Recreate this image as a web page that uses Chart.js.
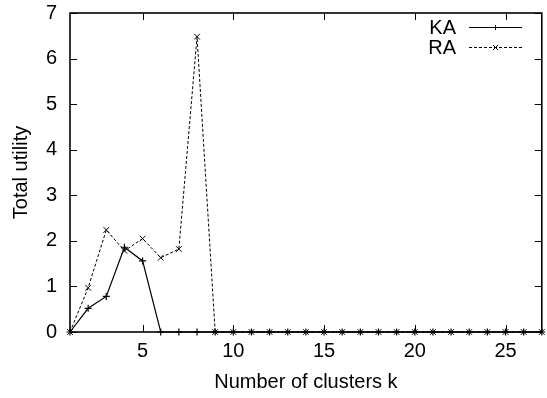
<!DOCTYPE html>
<html>
<head>
<meta charset="utf-8">
<script src="https://cdn.jsdelivr.net/npm/chart.js@4/dist/chart.umd.min.js"></script>
<style>
  html, body { margin: 0; padding: 0; background: #fff; }
  #wrap { width: 547px; height: 398px; }
</style>
</head>
<body>
<div id="wrap"><canvas id="chart"></canvas></div>
<script>
// number of clusters k and total utility for each algorithm
const kValues  = [1, 2, 3, 4, 5, 6, 7, 8, 9, 10, 11, 12, 13, 14, 15, 16, 17, 18, 19, 20, 21, 22, 23, 24, 25, 26, 27];
const kaValues = [0, 0.52, 0.78, 1.86, 1.56, 0, 0, 0, 0, 0, 0, 0, 0, 0, 0, 0, 0, 0, 0, 0, 0, 0, 0, 0, 0, 0, 0];
const raValues = [0, 0.97, 2.24, 1.78, 2.05, 1.63, 1.82, 6.48, 0, 0, 0, 0, 0, 0, 0, 0, 0, 0, 0, 0, 0, 0, 0, 0, 0, 0, 0];
const xTicks = [5, 10, 15, 20, 25];
const yTicks = [0, 1, 2, 3, 4, 5, 6, 7];

const FONT = '"Liberation Sans", Arial, Helvetica, sans-serif';
const FONT_SIZE = 20;

const toPoints = vals => vals.map((v, i) => ({ x: kValues[i], y: v }));

// gnuplot-like frame with inward ticks on all four sides, plus the key
const framePlugin = {
    id: 'frame',
    afterDraw(chart) {
        const { ctx, chartArea: a, scales } = chart;
        const tick = 7;
        ctx.save();
        ctx.strokeStyle = '#000';
        ctx.lineWidth = 1;
        ctx.beginPath();
        xTicks.forEach(v => {
            const px = Math.round(scales.x.getPixelForValue(v)) + 0.5;
            ctx.moveTo(px, a.bottom); ctx.lineTo(px, a.bottom - tick);
            ctx.moveTo(px, a.top); ctx.lineTo(px, a.top + tick);
        });
        yTicks.forEach(v => {
            const py = Math.round(scales.y.getPixelForValue(v)) + 0.5;
            ctx.moveTo(a.left, py); ctx.lineTo(a.left + tick, py);
            ctx.moveTo(a.right, py); ctx.lineTo(a.right - tick, py);
        });
        ctx.stroke();
        ctx.lineWidth = 1.6;
        ctx.strokeRect(a.left, a.top, a.right - a.left, a.bottom - a.top);

        // key
        ctx.font = FONT_SIZE + 'px ' + FONT;
        ctx.fillStyle = '#000';
        ctx.textAlign = 'right';
        ctx.textBaseline = 'middle';
        chart.data.datasets.forEach((ds, i) => {
            const y = 27.5 + i * 20;
            ctx.fillText(ds.label, 456, y + 1);
            ctx.lineWidth = 1;
            ctx.setLineDash(ds.borderDash || []);
            ctx.beginPath();
            ctx.moveTo(469, y); ctx.lineTo(522, y);
            ctx.stroke();
            ctx.setLineDash([]);
            const r = 2.5;
            ctx.beginPath();
            if (ds.pointStyle === 'cross') {
                ctx.moveTo(495.5 - r, y); ctx.lineTo(495.5 + r, y);
                ctx.moveTo(495.5, y - r); ctx.lineTo(495.5, y + r);
            } else {
                ctx.moveTo(495.5 - r, y - r); ctx.lineTo(495.5 + r, y + r);
                ctx.moveTo(495.5 + r, y - r); ctx.lineTo(495.5 - r, y + r);
            }
            ctx.stroke();
        });
        ctx.restore();
    }
};

new Chart(document.getElementById('chart'), {
    type: 'line',
    data: {
        datasets: [{
            label: 'KA',
            data: toPoints(kaValues),
            borderColor: '#000',
            backgroundColor: '#000',
            borderWidth: 1.2,
            pointStyle: 'cross',
            pointRadius: 3.5,
            pointBorderWidth: 1.2,
            tension: 0,
            clip: false
        }, {
            label: 'RA',
            data: toPoints(raValues),
            borderColor: '#000',
            backgroundColor: '#000',
            borderWidth: 1,
            borderDash: [3, 2],
            pointStyle: 'crossRot',
            pointRadius: 4,
            pointBorderWidth: 1,
            tension: 0,
            clip: false
        }]
    },
    options: {
        responsive: true,
        maintainAspectRatio: false,
        animation: false,
        layout: { padding: { top: 13, right: 2, left: 0, bottom: 0 } },
        plugins: {
            legend: { display: false },
            tooltip: { enabled: false }
        },
        scales: {
            x: {
                type: 'linear',
                min: 1,
                max: 27,
                afterBuildTicks: s => { s.ticks = xTicks.map(v => ({ value: v })); },
                afterFit: s => { s.height = 66; s.paddingLeft = 0; s.paddingRight = 0; },
                grid: { display: false, drawTicks: false },
                border: { display: false },
                ticks: { color: '#000', font: { family: FONT, size: FONT_SIZE }, padding: 7, maxRotation: 0 },
                title: {
                    display: true,
                    text: 'Number of clusters k',
                    color: '#000',
                    font: { family: FONT, size: FONT_SIZE },
                    padding: { top: 0, bottom: 4 }
                }
            },
            y: {
                min: 0,
                max: 7,
                afterBuildTicks: s => { s.ticks = yTicks.map(v => ({ value: v })); },
                afterFit: s => { s.width = 70; s.paddingTop = 0; s.paddingBottom = 0; },
                grid: { display: false, drawTicks: false },
                border: { display: false },
                ticks: { color: '#000', font: { family: FONT, size: FONT_SIZE }, padding: 13 },
                title: {
                    display: true,
                    text: 'Total utility',
                    color: '#000',
                    font: { family: FONT, size: FONT_SIZE },
                    padding: { top: 9, bottom: 0 }
                }
            }
        }
    },
    plugins: [framePlugin]
});
</script>
</body>
</html>
